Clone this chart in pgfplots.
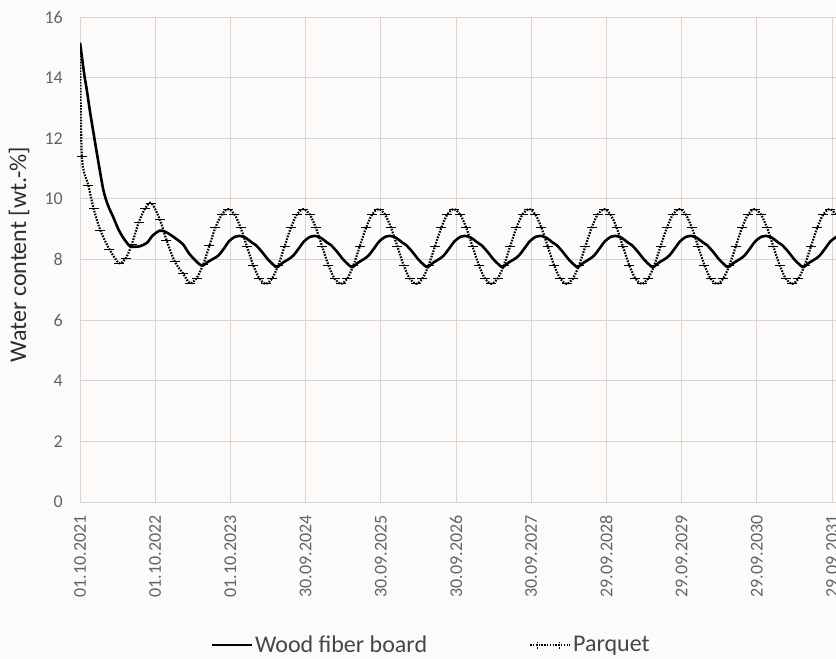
\documentclass[border=0pt]{standalone}
\usepackage{pgfplots}
\pgfplotsset{compat=1.18}
\usepackage{fontspec}
\setmainfont{Carlito}
\definecolor{bgc}{RGB}{253,251,250}
\definecolor{gridc}{RGB}{218,213,209}
\definecolor{tickc}{RGB}{100,100,100}
\definecolor{labc}{RGB}{45,45,45}
\definecolor{legc}{RGB}{70,70,70}
\begin{document}
\begin{tikzpicture}
\fill[bgc] (0,0) rectangle (836bp,659bp);
\begin{axis}[
  at={(80bp,157bp)}, anchor=south west,
  scale only axis, width=756.5bp, height=485bp,
  xmin=0, xmax=10.06, ymin=0, ymax=16,
  xtick={0,1,2,3,4,5,6,7,8,9,10},
  xticklabels={01.10.2021,01.10.2022,01.10.2023,30.09.2024,30.09.2025,30.09.2026,30.09.2027,29.09.2028,29.09.2029,29.09.2030,29.09.2031},
  ytick={0,2,4,6,8,10,12,14,16},
  /pgf/number format/assume math mode=true,
  major tick length=0pt,
  grid=major,
  major grid style={draw=gridc, line width=0.9bp},
  axis line style={draw=gridc, line width=0.9bp},
  xticklabel style={rotate=90, anchor=east, inner ysep=0pt, inner xsep=13bp, font=\fontsize{18bp}{20bp}\selectfont, text=tickc},
  yticklabel style={anchor=east, inner sep=0pt, xshift=-17bp, font=\fontsize{18bp}{20bp}\selectfont, text=tickc},
  ylabel={Water content [wt.-\%]},
  ylabel style={at={(axis description cs:-0.0806,0.51)}, anchor=center, font=\fontsize{24bp}{26bp}\selectfont, text=labc},
  legend columns=2,
  legend style={draw=none, fill=none, at={(axis description cs:0.464,-0.2948)}, anchor=center,
     font=\fontsize{24bp}{26bp}\selectfont, text=legc, /tikz/column 2/.style={column sep=100bp}},
]
\addplot[black, line width=2.6bp, smooth, no marks,
  legend image code/.code={\draw[black, line width=2.6bp] (0bp,0bp) -- (40bp,0bp);}]
coordinates {
(0,15.15) (0.03,14.6) (0.06,14.05) (0.09,13.6) (0.135,12.85) (0.18,12.17) (0.24,11.28) (0.31,10.3) (0.37,9.8) (0.44,9.41) (0.51,9.0) (0.58,8.7) (0.66,8.45) (0.73,8.42) (0.8,8.44) (0.89,8.55) (0.97,8.8) (1.06,8.95) (1.13,8.92) (1.2,8.82) (1.28,8.68) (1.37,8.5) (1.45,8.2) (1.53,7.98) (1.62,7.8) (1.7,7.92) (1.77,8.02) (1.84,8.13) (1.92,8.38) (1.98,8.6) (2.06,8.75) (2.12,8.78)
(2.2,8.72) (2.28,8.57) (2.34,8.47) (2.42,8.25) (2.5,8.0) (2.57,7.83) (2.62,7.75) (2.7,7.9) (2.78,8.02) (2.84,8.14) (2.92,8.4) (2.98,8.6) (3.06,8.75) (3.12,8.78)
(3.2,8.72) (3.28,8.57) (3.34,8.47) (3.42,8.25) (3.5,8.0) (3.57,7.83) (3.62,7.75) (3.7,7.9) (3.78,8.02) (3.84,8.14) (3.92,8.4) (3.98,8.6) (4.06,8.75) (4.12,8.78)
(4.2,8.72) (4.28,8.57) (4.34,8.47) (4.42,8.25) (4.5,8.0) (4.57,7.83) (4.62,7.75) (4.7,7.9) (4.78,8.02) (4.84,8.14) (4.92,8.4) (4.98,8.6) (5.06,8.75) (5.12,8.78)
(5.2,8.72) (5.28,8.57) (5.34,8.47) (5.42,8.25) (5.5,8.0) (5.57,7.83) (5.62,7.75) (5.7,7.9) (5.78,8.02) (5.84,8.14) (5.92,8.4) (5.98,8.6) (6.06,8.75) (6.12,8.78)
(6.2,8.72) (6.28,8.57) (6.34,8.47) (6.42,8.25) (6.5,8.0) (6.57,7.83) (6.62,7.75) (6.7,7.9) (6.78,8.02) (6.84,8.14) (6.92,8.4) (6.98,8.6) (7.06,8.75) (7.12,8.78)
(7.2,8.72) (7.28,8.57) (7.34,8.47) (7.42,8.25) (7.5,8.0) (7.57,7.83) (7.62,7.75) (7.7,7.9) (7.78,8.02) (7.84,8.14) (7.92,8.4) (7.98,8.6) (8.06,8.75) (8.12,8.78)
(8.2,8.72) (8.28,8.57) (8.34,8.47) (8.42,8.25) (8.5,8.0) (8.57,7.83) (8.62,7.75) (8.7,7.9) (8.78,8.02) (8.84,8.14) (8.92,8.4) (8.98,8.6) (9.06,8.75) (9.12,8.78)
(9.2,8.72) (9.28,8.57) (9.34,8.47) (9.42,8.25) (9.5,8.0) (9.57,7.83) (9.62,7.75) (9.7,7.9) (9.78,8.02) (9.84,8.14) (9.92,8.4) (9.98,8.6) (10.06,8.75)
};
\addlegendentry{Wood fiber board}
\addplot[black, line width=2.2bp, dash pattern=on 1.6bp off 1.3bp, smooth, mark=-, mark size=5bp, mark phase=2, mark repeat=1, mark options={solid, line width=0.8bp},
  legend image code/.code={\draw[black, line width=2bp, dash pattern=on 1.4bp off 1.4bp] (0bp,0bp) -- (40bp,0bp); \draw[black, line width=0.8bp] (7bp,-4bp) -- (7bp,4bp) (29bp,-4bp) -- (29bp,4bp);}]
coordinates {
(0,15.1) (0.025,11.4) (0.11,10.46) (0.18,9.69) (0.27,8.97) (0.39,8.34) (0.52,7.88) (0.61,8.05) (0.69,8.51) (0.78,9.22) (0.87,9.7) (0.95,9.86) (1.06,9.33) (1.15,8.64) (1.26,7.93) (1.37,7.54) (1.46,7.22) (1.55,7.38) (1.64,7.85) (1.72,8.45) (1.8,9.05) (1.89,9.5) (1.97,9.66)
(2.0533,9.495) (2.1367,9.045) (2.22,8.43) (2.3033,7.815) (2.3867,7.365) (2.47,7.2) (2.5533,7.365) (2.6367,7.815) (2.72,8.43) (2.8033,9.045) (2.8867,9.495) (2.97,9.66)
(3.0533,9.495) (3.1367,9.045) (3.22,8.43) (3.3033,7.815) (3.3867,7.365) (3.47,7.2) (3.5533,7.365) (3.6367,7.815) (3.72,8.43) (3.8033,9.045) (3.8867,9.495) (3.97,9.66)
(4.0533,9.495) (4.1367,9.045) (4.22,8.43) (4.3033,7.815) (4.3867,7.365) (4.47,7.2) (4.5533,7.365) (4.6367,7.815) (4.72,8.43) (4.8033,9.045) (4.8867,9.495) (4.97,9.66)
(5.0533,9.495) (5.1367,9.045) (5.22,8.43) (5.3033,7.815) (5.3867,7.365) (5.47,7.2) (5.5533,7.365) (5.6367,7.815) (5.72,8.43) (5.8033,9.045) (5.8867,9.495) (5.97,9.66)
(6.0533,9.495) (6.1367,9.045) (6.22,8.43) (6.3033,7.815) (6.3867,7.365) (6.47,7.2) (6.5533,7.365) (6.6367,7.815) (6.72,8.43) (6.8033,9.045) (6.8867,9.495) (6.97,9.66)
(7.0533,9.495) (7.1367,9.045) (7.22,8.43) (7.3033,7.815) (7.3867,7.365) (7.47,7.2) (7.5533,7.365) (7.6367,7.815) (7.72,8.43) (7.8033,9.045) (7.8867,9.495) (7.97,9.66)
(8.0533,9.495) (8.1367,9.045) (8.22,8.43) (8.3033,7.815) (8.3867,7.365) (8.47,7.2) (8.5533,7.365) (8.6367,7.815) (8.72,8.43) (8.8033,9.045) (8.8867,9.495) (8.97,9.66)
(9.0533,9.495) (9.1367,9.045) (9.22,8.43) (9.3033,7.815) (9.3867,7.365) (9.47,7.2) (9.5533,7.365) (9.6367,7.815) (9.72,8.43) (9.8033,9.045) (9.8867,9.495) (9.97,9.66)
(10.0533,9.495)
};
\addlegendentry{Parquet}
\end{axis}
\pgfresetboundingbox
\path[use as bounding box] (0,0) rectangle (836bp,659bp);
\end{tikzpicture}
\end{document}
